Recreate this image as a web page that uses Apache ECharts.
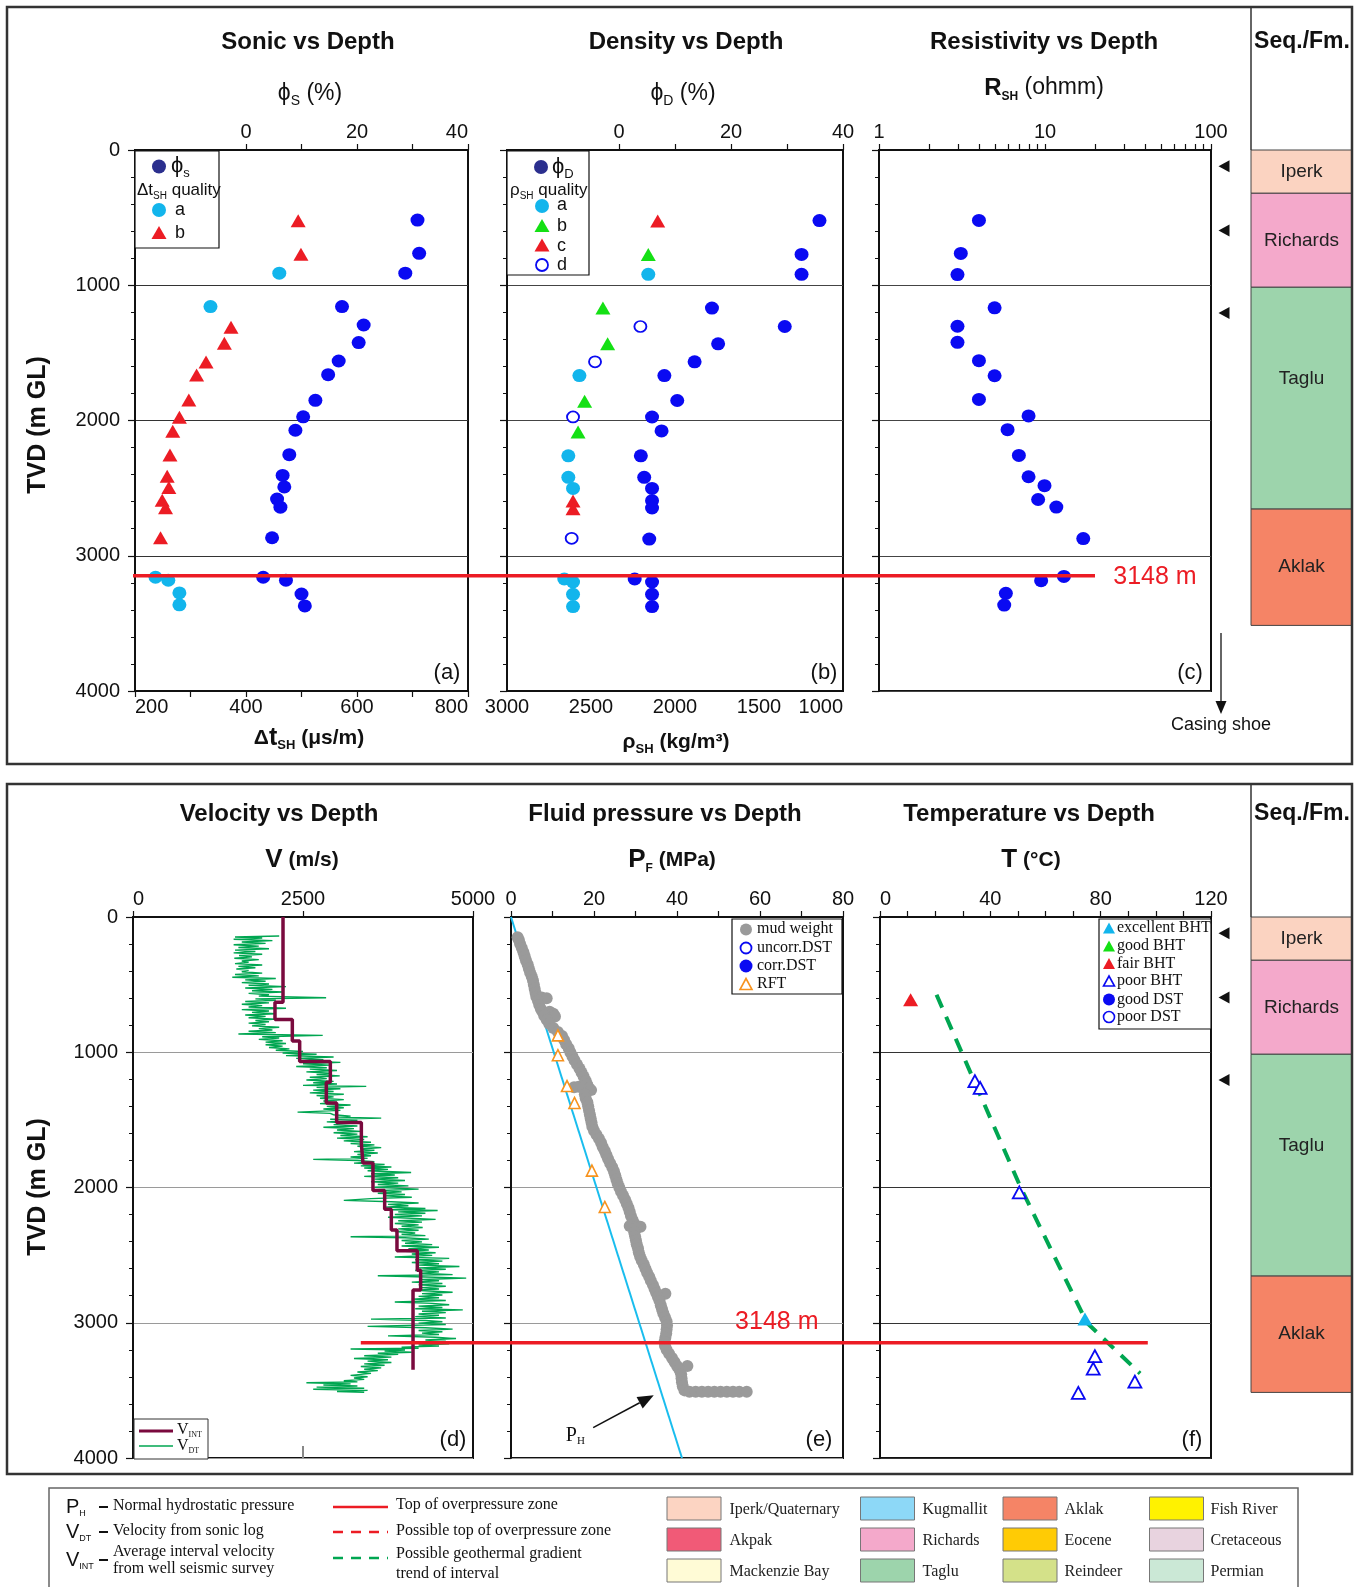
<!DOCTYPE html>
<html><head><meta charset="utf-8">
<script src="https://cdn.jsdelivr.net/npm/echarts@6/dist/echarts.min.js"></script>
<style>html,body{margin:0;padding:0;background:#fff}#c{width:1363px;height:1587px}</style>
</head><body><div id="c"></div>
<script>
// ---------------- DATA ----------------
const depthLabels = [0, 1000, 2000, 3000, 4000];
// (a) Sonic vs depth
const phiS = [[30.9,518],[31.2,764],[28.7,911],[17.3,1158],[21.2,1294],[20.3,1424],[16.7,1560],[14.8,1661],[12.5,1851],[10.3,1973],[8.9,2072],[7.8,2253],[6.6,2406],[6.9,2491],[5.6,2581],[6.2,2641],[4.7,2867],[3.1,3159],[7.2,3181],[10.0,3283],[10.6,3371]];
const dtQualityA = [[460,911],[336,1158],[237,3159],[260,3181],[280,3275],[280,3363]];
const dtQualityB = [[494,524],[499,770],[373,1310],[361,1429],[328,1568],[311,1664],[297,1848],[280,1976],[268,2080],[263,2256],[258,2412],[261,2496],[249,2590],[255,2646],[246,2867]];
// (b) Density vs depth
const phiD = [[35.8,522],[32.6,772],[32.6,919],[16.6,1169],[29.6,1305],[17.7,1433],[13.5,1566],[8.1,1668],[10.4,1852],[5.9,1974],[7.6,2077],[3.9,2261],[4.5,2420],[5.9,2502],[5.9,2593],[5.9,2647],[5.4,2877],[2.8,3172],[5.9,3194],[5.9,3285],[5.9,3376]];
const rhoQualityA = [[2159,919],[2569,1668],[2635,2261],[2635,2420],[2607,2502],[2659,3172],[2607,3194],[2607,3285],[2607,3376]];
const rhoQualityB = [[2159,772],[2429,1169],[2401,1433],[2538,1858],[2577,2085]];
const rhoQualityC = [[2103,525],[2607,2596],[2607,2652]];
const rhoQualityD = [[2206,1305],[2476,1566],[2607,1974],[2615,2871]];
// (c) Resistivity vs depth
const rSH = [[4.0,521],[3.11,765],[2.97,921],[4.97,1167],[2.97,1303],[2.97,1422],[4.0,1558],[4.97,1669],[4.0,1844],[7.96,1966],[5.95,2068],[6.96,2258],[7.96,2416],[9.93,2482],[9.09,2584],[11.7,2640],[17.0,2873],[9.48,3184],[13.0,3153],[5.81,3278],[5.68,3365]];
const casingShoeDepths = [120, 595, 1205];
// (d) Velocity vs depth
const vIntTop = [0,631,758,917,1069,1222,1375,1519,1675,1819,2022,2161,2314,2467,2611,2758];
const vIntBase = 3347;
const vInt = [2206,2088,2343,2451,2902,2843,2995,3358,3382,3529,3701,3799,3882,4181,4230,4118];
const vDT = [[2150,140],[1500,148],[1900,155],[1480,165],[2050,175],[1600,185],[1950,195],[1480,205],[1850,215],[1550,225],[2000,235],[1500,245],[1800,255],[1480,265],[1900,275],[1560,285],[1750,295],[1490,305],[1850,315],[1600,325],[1700,335],[1500,345],[1900,355],[1550,365],[1800,375],[1520,385],[1700,395],[1600,405],[1900,415],[1500,425],[1850,435],[1460,445],[2100,455],[1650,465],[1950,475],[1600,485],[2000,495],[1700,505],[2250,515],[1650,525],[2050,535],[1750,545],[2200,555],[1700,565],[2000,575],[1850,585],[2840,597],[1800,605],[2100,615],[1650,625],[2000,635],[1600,645],[1900,655],[1700,665],[2250,675],[1600,685],[2000,695],[1750,705],[2100,715],[1650,725],[1950,735],[1700,745],[2100,755],[1800,765],[2000,775],[1700,785],[1950,795],[1750,805],[2150,815],[1850,825],[2050,835],[1700,845],[2100,855],[1550,865],[2790,875],[1900,885],[2150,895],[1850,905],[2200,915],[1950,925],[2250,935],[1950,945],[2200,955],[2000,965],[2300,975],[2100,985],[2500,995],[2200,1005],[2700,1015],[2250,1025],[2950,1035],[2400,1045],[2800,1055],[2450,1065],[3050,1075],[2500,1085],[2900,1095],[2400,1105],[2850,1115],[2600,1125],[3000,1135],[2550,1145],[2900,1155],[2700,1165],[3040,1175],[2600,1185],[2850,1195],[2550,1205],[2950,1215],[2650,1225],[3000,1235],[2500,1245],[3430,1252],[2700,1260],[3050,1270],[2650,1280],[2950,1290],[2600,1300],[3100,1310],[2700,1320],[2950,1330],[2750,1340],[3100,1350],[2800,1360],[3000,1370],[2750,1380],[3200,1390],[2850,1400],[3100,1410],[2800,1420],[3050,1430],[2420,1443],[2900,1452],[2950,1462],[3200,1472],[3000,1480],[3650,1487],[2900,1495],[3300,1505],[2850,1515],[3200,1525],[2950,1535],[3300,1545],[2800,1555],[3250,1565],[3000,1575],[3350,1585],[2950,1595],[3300,1605],[3050,1615],[3450,1625],[3000,1635],[3400,1645],[3100,1655],[3500,1665],[3200,1675],[3550,1685],[3300,1695],[3650,1705],[3350,1715],[3550,1725],[3250,1735],[3600,1745],[3300,1755],[3500,1765],[3200,1775],[3450,1785],[2650,1792],[3300,1800],[3550,1810],[3250,1820],[3700,1830],[3350,1840],[3800,1848],[3400,1856],[3750,1866],[3450,1876],[4090,1889],[3500,1898],[3850,1908],[3400,1918],[3900,1928],[3550,1938],[4000,1948],[3500,1958],[3900,1968],[3600,1978],[4050,1988],[3550,1998],[4200,2012],[3650,2022],[3950,2032],[3600,2042],[4000,2052],[3700,2062],[4100,2072],[3500,2082],[3100,2095],[3800,2105],[4200,2115],[3750,2125],[4050,2135],[3700,2145],[4300,2155],[3800,2165],[4480,2170],[3900,2180],[4300,2190],[3850,2200],[4250,2210],[3750,2220],[4450,2236],[3900,2246],[4250,2256],[3850,2266],[4200,2276],[3950,2286],[4260,2296],[3900,2306],[4200,2316],[3850,2326],[4150,2336],[3950,2346],[4300,2356],[3200,2364],[4000,2372],[4350,2382],[3950,2392],[4250,2402],[4000,2412],[4400,2422],[3950,2432],[4500,2442],[4050,2452],[4350,2462],[4000,2472],[4450,2482],[4100,2492],[4400,2502],[3850,2514],[4650,2524],[4150,2534],[4550,2544],[4100,2554],[4500,2564],[4200,2574],[4800,2584],[4200,2594],[4600,2604],[4150,2614],[4500,2624],[4250,2634],[4700,2644],[3600,2653],[4300,2662],[4900,2670],[4250,2680],[4500,2690],[4100,2700],[4550,2710],[4200,2720],[4600,2730],[4250,2740],[4500,2750],[4150,2760],[4700,2775],[4250,2785],[4550,2795],[4200,2805],[4500,2815],[4100,2825],[4600,2835],[3850,2847],[4400,2857],[4650,2867],[4200,2877],[4550,2887],[4150,2897],[4850,2905],[4250,2915],[4600,2925],[4200,2935],[4500,2945],[4150,2955],[4600,2965],[3500,2973],[4300,2983],[4550,2993],[4200,3003],[4600,3013],[3450,3027],[4300,3037],[4700,3047],[4200,3057],[4550,3067],[4250,3077],[4500,3087],[3750,3097],[4450,3107],[4750,3117],[4300,3127],[4600,3137],[4000,3147],[4650,3155],[4200,3165],[4500,3172],[3950,3180],[4200,3188],[3200,3194],[4000,3202],[3700,3210],[4100,3218],[3600,3226],[3900,3234],[3400,3244],[3800,3254],[3250,3264],[3750,3274],[3450,3284],[3800,3294],[3400,3304],[3700,3314],[3350,3324],[3650,3334],[3400,3344],[3600,3354],[3300,3364],[3500,3374],[3200,3389],[3450,3399],[3250,3409],[3400,3419],[3100,3429],[3300,3437],[2550,3444],[3200,3452],[2800,3460],[3300,3468],[2700,3476],[3400,3484],[2650,3492],[3450,3500],[3000,3508],[3400,3514]];
// (e) Fluid pressure vs depth
const hydrostatic = [[0,0],[41.2,4000]];
const rft = [[11.3,875],[11.3,1022],[13.5,1250],[15.3,1375],[19.5,1875],[22.6,2144]];
const mudWeight = [[1.6,150],[1.9,170],[2.2,200],[2.6,230],[3.0,260],[3.3,290],[3.6,320],[4.0,350],[4.3,380],[4.6,410],[5.0,440],[5.3,470],[5.5,500],[5.7,530],[5.9,560],[6.1,590],[7.4,595],[8.6,600],[6.5,620],[6.8,650],[7.2,680],[7.6,700],[9.3,700],[10.2,715],[10.6,735],[8.0,730],[8.6,760],[9.2,790],[10.2,820],[11.3,850],[12.3,880],[12.8,910],[13.3,940],[13.9,970],[14.3,1000],[14.8,1030],[15.3,1060],[15.9,1090],[16.5,1120],[17.0,1150],[17.5,1180],[18.0,1210],[18.4,1240],[15.2,1258],[16.3,1255],[17.4,1262],[18.8,1268],[19.3,1280],[17.8,1310],[18.0,1340],[18.4,1370],[18.6,1400],[18.8,1430],[19.0,1460],[19.2,1490],[19.4,1520],[19.6,1550],[20.0,1580],[20.6,1610],[21.2,1640],[21.7,1670],[22.1,1700],[22.6,1730],[23.0,1760],[23.4,1790],[23.9,1820],[24.4,1850],[24.8,1880],[25.1,1910],[25.4,1940],[25.7,1970],[26.1,2000],[26.5,2030],[27.0,2060],[27.5,2090],[27.9,2120],[28.3,2150],[28.6,2180],[28.9,2210],[29.3,2240],[29.8,2270],[28.6,2285],[31.2,2290],[30.2,2300],[29.7,2330],[29.9,2360],[30.1,2390],[30.3,2420],[30.6,2450],[30.8,2480],[31.1,2510],[31.5,2540],[32.0,2570],[32.4,2600],[32.8,2630],[33.3,2660],[33.7,2690],[34.2,2720],[34.6,2750],[35.0,2780],[37.2,2786],[35.4,2810],[35.8,2840],[36.1,2870],[36.4,2900],[36.7,2930],[37.1,2960],[37.5,2990],[37.6,3020],[37.5,3050],[37.4,3080],[37.2,3110],[37.0,3140],[37.1,3170],[37.5,3200],[38.1,3230],[38.8,3260],[39.4,3290],[40.0,3320],[42.5,3319],[40.6,3350],[41.0,3380],[41.1,3410],[41.2,3440],[41.4,3470],[41.8,3500],[43.0,3510],[44.5,3510],[46.0,3510],[47.5,3510],[49.0,3510],[50.5,3510],[52.0,3510],[53.5,3510],[55.0,3510],[56.8,3510]];
const phArrow = [[19.8,3775,34.4,3536,15.5,3835]];
// (f) Temperature vs depth
const bhtFair = [[11.1,611]];
const bhtExcellent = [[74.3,2972]];
const bhtPoor = [[34.4,1214],[36.3,1264],[50.5,2036],[77.9,3247],[77.3,3339],[92.4,3436],[71.9,3519]];
const geoTrend = [[20.5,575],[51.0,2000],[75.0,3000],[94.3,3375]];
// overpressure top
const overpressureTop = 3148;
// sequences
const seqNames = ['Iperk','Richards','Taglu','Aklak'];
const seqTop = [0,320,1015,2655];
const seqBase = [320,1015,2655,3515];
// bottom legend
const formationNames = ['Iperk/Quaternary','Akpak','Mackenzie Bay','Kugmallit','Richards','Taglu','Aklak','Eocene','Reindeer','Fish River','Cretaceous','Permian'];

// ---------------- STYLE ----------------
const SANS = '"Liberation Sans", Arial, Helvetica, sans-serif';
const SERIF = '"Liberation Serif", "Times New Roman", serif';
const BLUE = '#0a0af2', NAVY = '#2b2f8e', CYAN = '#12b5ec', RED = '#ec1c24', GREEN = '#14e014';
const MAROON = '#7a0a3e', VGREEN = '#00a651', GREY = '#9a9a9a', ORANGE = '#f7931e', PHCOL = '#19bdee';
const seqColors = ['#fbd3c1','#f4a9cb','#9dd4ac','#f58466'];
const seqLabelShift = [0,0,-19,0];
const formationColors = ['#fcd4c2','#f15a77','#fffbd6','#8dd8f7','#f4a9cb','#9dd4ac','#f58466','#ffcb05','#d4e189','#fff200','#e8d3df','#cbe8d6'];
const plain = (v)=>String(v);

const layout = [
  {left:135, top:150, width:333, height:541},
  {left:507, top:150, width:336, height:541},
  {left:879, top:150, width:332, height:541},
  {left:1251, top:150, width:101, height:541},
  {left:133, top:917, width:340, height:541},
  {left:511, top:917, width:332, height:541},
  {left:880, top:917, width:331, height:541},
  {left:1251, top:917, width:101, height:541}
];
const grid = layout.map((g,i)=>Object.assign({show: i!==3 && i!==7, borderColor:'#111', borderWidth:2, backgroundColor:'transparent', containLabel:false, outerBoundsMode:'none'}, g));

function yAx(gi, labels, gridColor, hidden){
  if (hidden) return {type:'value', gridIndex:gi, inverse:true, min:0, max:4000, show:false};
  return {type:'value', gridIndex:gi, inverse:true, min:0, max:4000, interval:1000,
    axisLine:{show:true, onZero:false, lineStyle:{color:'#111', width:2}},
    axisTick:{show:true, length:7, lineStyle:{color:'#111', width:1.2}},
    minorTick:{show:true, splitNumber:5, length:4, lineStyle:{color:'#111', width:1}},
    axisLabel:{show:labels, fontSize:20, fontFamily:SANS, color:'#111', margin:15, customValues: depthLabels, formatter: plain},
    splitLine:{show:true, lineStyle:{color:gridColor, width:1}},
    minorSplitLine:{show:false}};
}
function xAx(gi, pos, min, max, interval, ticks, labels, extra){
  const ax = {type:'value', gridIndex:gi, position:pos, min, max, interval,
    axisLine:{show:true, onZero:false, lineStyle:{color:'#111', width:2}},
    axisTick:{show: ticks!==null, length:6, lineStyle:{color:'#111', width:1.2}},
    axisLabel:{show: labels!==null, fontSize:20, fontFamily:SANS, color:'#111', margin:8, formatter: plain},
    splitLine:{show:false}};
  if (ticks) ax.axisTick.customValues = ticks;
  if (labels) ax.axisLabel.customValues = labels;
  if (extra) { for (const k in extra) { if (typeof extra[k]==='object' && ax[k]) Object.assign(ax[k], extra[k]); else ax[k]=extra[k]; } }
  return ax;
}
const xAxis = [
  xAx(0,'top',-20,40,10,[0,10,20,30,40],[0,20,40],{axisLabel:{alignMaxLabel:'right'}}),
  xAx(0,'bottom',200,800,100,[200,300,400,500,600,700,800],[200,400,600,800],{axisLabel:{alignMinLabel:'left', alignMaxLabel:'right', margin:6}}),
  xAx(1,'top',-20,40,10,[0,10,20,30,40],[0,20,40]),
  xAx(1,'bottom',1000,3000,500,null,[1000,1500,2000,2500,3000],{inverse:true, axisLabel:{alignMinLabel:'right', alignMaxLabel:'center', margin:6}}),
  xAx(2,'top',1,100,null,[1,2,3,4,5,6,7,8,9,10,20,30,40,50,60,70,80,90,100],[1,10,100],{type:'log', logBase:10}),
  {type:'value', gridIndex:3, min:0, max:1, show:false},
  xAx(4,'top',0,5000,2500,[0,2500,5000],[0,2500,5000],{axisLabel:{alignMinLabel:'left'}}),
  xAx(4,'bottom',0,5000,2500,[2500],null,{axisLine:{show:false}, axisTick:{inside:true, length:12, lineStyle:{color:'#888', width:2}}}),
  xAx(5,'top',0,80,10,[0,10,20,30,40,50,60,70,80],[0,20,40,60,80]),
  xAx(6,'top',0,120,10,[0,10,20,30,40,50,60,70,80,90,100,110,120],[0,40,80,120],{axisLabel:{alignMinLabel:'left'}}),
  {type:'value', gridIndex:7, min:0, max:1, show:false}
];
delete xAxis[4].interval;
const yAxis = [yAx(0,true,'#333'), yAx(1,false,'#444'), yAx(2,false,'#444'), yAx(3,false,'',true),
  yAx(4,true,'#9a9a9a'), yAx(5,false,'#9a9a9a'), yAx(6,false,'#333'), yAx(7,false,'',true)];

function sc(name, xi, yi, data, symbol, size, color, extra){
  return Object.assign({type:'scatter', name, xAxisIndex:xi, yAxisIndex:yi, data, symbol, symbolSize:size,
    itemStyle:{color, opacity:1}, silent:true, z:5}, extra||{});
}
const hollow = (c, w)=>({itemStyle:{color:'#fff', borderColor:c, borderWidth:w, opacity:1}});

// V_INT step polyline built from interval tops/values
const vIntLine = [];
vInt.forEach((v,i)=>{ const base = i < vIntTop.length-1 ? vIntTop[i+1] : vIntBase; vIntLine.push([v, vIntTop[i]], [v, base]); });

const txtStyle = (o)=>Object.assign({fill:'#111', fontFamily:SANS, fontSize:20, textAlign:'left', textVerticalAlign:'middle', align:'left', verticalAlign:'middle'}, o);

const seqData = seqNames.map((n,i)=>[0, seqTop[i], seqBase[i], i]);
function seqRender(p, api){
  const a = api.coord([0, api.value(1)]), b = api.coord([1, api.value(2)]);
  const i = api.value(3);
  return {type:'group', children:[
    {type:'rect', shape:{x:a[0], y:a[1], width:b[0]-a[0], height:b[1]-a[1]}, style:{fill:seqColors[i], stroke:'#444', lineWidth:1}},
    {type:'text', x:(a[0]+b[0])/2, y:(a[1]+b[1])/2 + seqLabelShift[i], style:txtStyle({text:seqNames[i], fontSize:19, fill:'#222', textAlign:'center', align:'center'})}
  ]};
}

const series = [
  // (a)
  sc('phiS',0,0,phiS,'circle',[14,13],BLUE),
  sc('dtA',1,0,dtQualityA,'circle',[14,13],CYAN),
  sc('dtB',1,0,dtQualityB,'triangle',[15,13],RED),
  // (b)
  sc('phiD',2,1,phiD,'circle',[14,13],BLUE),
  sc('rhoA',3,1,rhoQualityA,'circle',[14,13],CYAN),
  sc('rhoB',3,1,rhoQualityB,'triangle',[15,13],GREEN),
  sc('rhoC',3,1,rhoQualityC,'triangle',[15,13],RED),
  sc('rhoD',3,1,rhoQualityD,'circle',[12,11],BLUE,hollow(BLUE,1.8)),
  // (c)
  sc('rSH',4,2,rSH,'circle',[14,13],BLUE),
  sc('casingC',4,2,casingShoeDepths.map(d=>[100,d]),'triangle',[12,11],'#111',{symbolRotate:90, symbolOffset:[13,0], clip:false}),
  // seq
  {type:'custom', xAxisIndex:5, yAxisIndex:3, data:seqData, renderItem:seqRender, silent:true, z:2},
  {type:'custom', xAxisIndex:10, yAxisIndex:7, data:seqData, renderItem:seqRender, silent:true, z:2},
  // top overpressure line
  {type:'custom', xAxisIndex:0, yAxisIndex:0, z:30, silent:true, clip:false, data:[[-20, overpressureTop]],
    renderItem:(p, api)=>{ const pt = api.coord([api.value(0), api.value(1)]);
      return {type:'group', children:[
        {type:'line', shape:{x1:pt[0]-2, y1:pt[1], x2:pt[0]+960, y2:pt[1]}, style:{stroke:RED, lineWidth:3.5}},
        {type:'text', x:pt[0]+1020, y:pt[1]+1, style:txtStyle({text: overpressureTop+' m', fill:RED, fontSize:25, textAlign:'center', align:'center'})}
      ]}; }},
  // (d)
  {type:'line', xAxisIndex:6, yAxisIndex:4, data:vDT, symbol:'none', showSymbol:false, lineStyle:{color:VGREEN, width:1.4}, silent:true, z:4, animation:false},
  {type:'line', xAxisIndex:6, yAxisIndex:4, data:vIntLine, symbol:'none', showSymbol:false, lineStyle:{color:MAROON, width:3.5}, silent:true, z:6, animation:false},
  // (e)
  {type:'line', xAxisIndex:8, yAxisIndex:5, data:hydrostatic, symbol:'none', showSymbol:false, lineStyle:{color:PHCOL, width:2}, silent:true, z:4},
  sc('mud',8,5,mudWeight,'circle',12,GREY,{z:5}),
  sc('rft',8,5,rft,'triangle',[11,11],ORANGE,Object.assign(hollow(ORANGE,1.6),{z:7})),
  {type:'custom', xAxisIndex:8, yAxisIndex:5, z:30, silent:true, clip:false, data:phArrow,
    renderItem:(p, api)=>{ const a = api.coord([api.value(0), api.value(1)]), b = api.coord([api.value(2), api.value(3)]), t = api.coord([api.value(4), api.value(5)]);
      const dx=b[0]-a[0], dy=b[1]-a[1], L=Math.hypot(dx,dy), ux=dx/L, uy=dy/L, hl=16, hw=6.5;
      const bx=b[0]-ux*hl, by=b[1]-uy*hl;
      return {type:'group', children:[
        {type:'line', shape:{x1:a[0], y1:a[1], x2:bx, y2:by}, style:{stroke:'#111', lineWidth:1.5}},
        {type:'polygon', shape:{points:[[b[0],b[1]],[bx-uy*hw, by+ux*hw],[bx+uy*hw, by-ux*hw]]}, style:{fill:'#111'}},
        {type:'text', x:t[0], y:t[1], style:txtStyle({text:'{m|P}{s|H}', fontFamily:SERIF, textAlign:'center', align:'center', rich:{m:{fontSize:20, fontFamily:SERIF, lineHeight:22}, s:{fontSize:11, fontFamily:SERIF, lineHeight:10, verticalAlign:'bottom'}}})}
      ]}; }},
  // (f)
  {type:'line', xAxisIndex:9, yAxisIndex:6, data:geoTrend, symbol:'none', showSymbol:false, lineStyle:{color:VGREEN, width:4, type:[14,10]}, silent:true, z:4},
  sc('fair',9,6,bhtFair,'triangle',[15,13],RED),
  sc('excellent',9,6,bhtExcellent,'triangle',[15,13],CYAN),
  sc('poor',9,6,bhtPoor,'triangle',[13,12],BLUE,hollow(BLUE,1.8)),
  sc('casingF',9,6,casingShoeDepths.map(d=>[120,d]),'triangle',[12,11],'#111',{symbolRotate:90, symbolOffset:[13,0], clip:false}),
  // bottom overpressure line
  {type:'custom', xAxisIndex:6, yAxisIndex:4, z:30, silent:true, clip:false, data:[[3350, overpressureTop]],
    renderItem:(p, api)=>{ const pt = api.coord([api.value(0), api.value(1)]);
      return {type:'group', children:[
        {type:'line', shape:{x1:pt[0], y1:pt[1], x2:pt[0]+787, y2:pt[1]}, style:{stroke:RED, lineWidth:3.5}},
        {type:'text', x:pt[0]+416, y:pt[1]-21, style:txtStyle({text: overpressureTop+' m', fill:RED, fontSize:25, textAlign:'center', align:'center'})}
      ]}; }}
];

// ---------------- GRAPHICS (frames, titles, legends) ----------------
const G = [];
const T = (x,y,text,o)=>G.push({type:'text', x, y, silent:true, z:100, style:txtStyle(Object.assign({text}, o||{}))});
const TR = (x,y,text,o)=>G.push({type:'text', x, y, silent:true, z:100, rotation:Math.PI/2, style:txtStyle(Object.assign({text}, o||{}))});
const L = (x1,y1,x2,y2,stroke,w,dash)=>G.push({type:'line', silent:true, z:100, shape:{x1,y1,x2,y2}, style:{stroke, lineWidth:w, lineDash:dash||null}});
const R = (x,y,w,h,fill,stroke,lw)=>G.push({type:'rect', silent:true, z:100, shape:{x,y,width:w,height:h}, style:{fill, stroke, lineWidth:lw}});
const C = (cx,cy,r,fill,stroke,lw)=>G.push({type:'circle', silent:true, z:100, shape:{cx,cy,r}, style:{fill, stroke, lineWidth:lw||0}});
const TRI = (cx,cy,w,h,fill,stroke,lw)=>G.push({type:'polygon', silent:true, z:100, shape:{points:[[cx,cy-h/2],[cx+w/2,cy+h/2],[cx-w/2,cy+h/2]]}, style:{fill, stroke, lineWidth:lw||0}});
const C_ = 'center';
const cen = {textAlign:C_, align:C_};
const sub = (big, small, extra)=>Object.assign({m:{fontSize:big, lineHeight:big+5}, s:{fontSize:small, lineHeight:small, verticalAlign:'bottom'}}, extra||{});

// frames
R(7,7,1345,757,'none','#333',2.5);
R(7,784,1345,690,'none','#333',2.5);
L(1251,7,1251,150,'#333',1.5);
L(1251,784,1251,917,'#333',1.5);
// titles (top)
const titleStyle = Object.assign({fontSize:24, fontWeight:'bold'}, cen);
T(308,42,'Sonic vs Depth',titleStyle);
T(686,42,'Density vs Depth',titleStyle);
T(1044,42,'Resistivity vs Depth',titleStyle);
T(1302,42,'Seq./Fm.',Object.assign({},titleStyle,{fontSize:23}));
T(310,94,'{m|ϕ}{s|S}{m| (%)}',Object.assign({rich:sub(23,14)},cen));
T(683,94,'{m|ϕ}{s|D}{m| (%)}',Object.assign({rich:sub(23,14)},cen));
T(1044,88,'{b|R}{s|SH}{m| (ohmm)}',Object.assign({rich:sub(23,12,{b:{fontSize:24, fontWeight:'bold', lineHeight:29}, s:{fontSize:12, fontWeight:'bold', lineHeight:12, verticalAlign:'bottom'}})},cen));
T(309,738,'{m|Δ}{b|t}{s|SH}{m| (μs/m)}',Object.assign({rich:{m:{fontSize:21, fontWeight:'bold', lineHeight:27}, b:{fontSize:25, fontWeight:'bold', lineHeight:27}, s:{fontSize:13, fontWeight:'bold', lineHeight:13, verticalAlign:'bottom'}}},cen));
T(676,742,'{m|ρ}{s|SH}{m| (kg/m³)}',Object.assign({rich:{m:{fontSize:21, fontWeight:'bold', lineHeight:27}, s:{fontSize:13, fontWeight:'bold', lineHeight:13, verticalAlign:'bottom'}}},cen));
// titles (bottom)
T(279,814,'Velocity vs Depth',titleStyle);
T(665,814,'Fluid pressure vs Depth',titleStyle);
T(1029,814,'Temperature vs Depth',titleStyle);
T(1302,814,'Seq./Fm.',Object.assign({},titleStyle,{fontSize:23}));
T(302,860,'{b|V}{m| (m/s)}',Object.assign({rich:{b:{fontSize:26, fontWeight:'bold', lineHeight:30}, m:{fontSize:21, fontWeight:'bold', lineHeight:30}}},cen));
T(672,860,'{b|P}{s|F}{m| (MPa)}',Object.assign({rich:{b:{fontSize:26, fontWeight:'bold', lineHeight:30}, s:{fontSize:12, fontWeight:'bold', lineHeight:14, verticalAlign:'bottom'}, m:{fontSize:21, fontWeight:'bold', lineHeight:30}}},cen));
T(1031,860,'{b|T}{m| (°C)}',Object.assign({rich:{b:{fontSize:26, fontWeight:'bold', lineHeight:30}, m:{fontSize:21, fontWeight:'bold', lineHeight:30}}},cen));
// y titles
TR(38,425,'TVD (m GL)',Object.assign({fontSize:25, fontWeight:'bold'},cen));
TR(38,1187,'TVD (m GL)',Object.assign({fontSize:25, fontWeight:'bold'},cen));
// panel tags
[['(a)',447,673],['(b)',824,673],['(c)',1190,673],['(d)',453,1440],['(e)',819,1440],['(f)',1192,1440]].forEach(a=>T(a[1],a[2],a[0],Object.assign({fontSize:22},cen)));
// casing shoe
L(1221,633,1221,702,'#333',1.5);
G.push({type:'polygon', silent:true, z:100, shape:{points:[[1221,714],[1215.5,701],[1226.5,701]]}, style:{fill:'#111'}});
T(1221,725,'Casing shoe',Object.assign({fontSize:18},cen));
// legend (a)
R(135,151,84,97,'#fff','#111',1.2);
C(159,166.5,7,NAVY);
T(171,166,'{m|ϕ}{s|s}',{rich:sub(22,13)});
T(137,190,'{m|Δt}{s|SH}{m| quality}',{rich:sub(17,10)});
C(159,210,7,CYAN); T(175,210,'a',{fontSize:18});
TRI(159,232.5,15,13,RED); T(175,233.5,'b',{fontSize:18});
// legend (b)
R(507,151,82,124,'#fff','#111',1.2);
C(541,167,7,NAVY);
T(552,167,'{m|ϕ}{s|D}',{rich:sub(22,13)});
T(510,190,'{m|ρ}{s|SH}{m| quality}',{rich:sub(17,10)});
C(542,206,7,CYAN); T(557,205.5,'a',{fontSize:18});
TRI(542,225.5,15,13,GREEN); T(557,226.5,'b',{fontSize:18});
TRI(542,245,15,13,RED); T(557,246,'c',{fontSize:18});
C(542,265,6,'#fff',BLUE,1.8); T(557,265,'d',{fontSize:18});
// legend (d)
R(134,1419,74,40,'#fff','#333',1);
L(139,1431,173,1431,MAROON,3);
L(139,1446,173,1446,VGREEN,1.5);
T(177,1430,'{m|V}{s|INT}',{fontFamily:SERIF, rich:{m:{fontSize:16, fontFamily:SERIF, lineHeight:18}, s:{fontSize:8, fontFamily:SERIF, lineHeight:8, verticalAlign:'bottom'}}});
T(177,1446,'{m|V}{s|DT}',{fontFamily:SERIF, rich:{m:{fontSize:16, fontFamily:SERIF, lineHeight:18}, s:{fontSize:8, fontFamily:SERIF, lineHeight:8, verticalAlign:'bottom'}}});
// legend (e)
R(732,919,110,75,'#fff','#111',1.2);
C(746,929.5,6,GREY); T(757,929,'mud weight',{fontFamily:SERIF, fontSize:16});
C(746,948,5.5,'#fff',BLUE,1.8); T(757,947.5,'uncorr.DST',{fontFamily:SERIF, fontSize:16});
C(746,966,6.5,BLUE); T(757,965.5,'corr.DST',{fontFamily:SERIF, fontSize:16});
TRI(746,984,12,11,'#fff',ORANGE,1.6); T(757,983.5,'RFT',{fontFamily:SERIF, fontSize:16});
// legend (f)
R(1099,919,112,110,'#fff','#111',1.2);
const fl = [['excellent BHT',928],['good BHT',946],['fair BHT',963.5],['poor BHT',981],['good DST',999.5],['poor DST',1017]];
TRI(1109,928,12,11,CYAN); TRI(1109,946,12,11,GREEN); TRI(1109,963.5,12,11,RED); TRI(1109,981,11,10,'#fff',BLUE,1.6);
C(1109,999.5,6,BLUE); C(1109,1017,5.5,'#fff',BLUE,1.6);
fl.forEach(f=>T(1117,f[1],f[0],{fontFamily:SERIF, fontSize:16}));
// bottom legend box
R(49,1488,1249,130,'#fff','#666',1.5);
const lgSub = {m:{fontSize:20, lineHeight:22}, s:{fontSize:9, lineHeight:9, verticalAlign:'bottom'}};
T(66,1507,'{m|P}{s|H}',{rich:lgSub});
T(66,1532,'{m|V}{s|DT}',{rich:lgSub});
T(66,1560,'{m|V}{s|INT}',{rich:lgSub});
[1507,1532,1560].forEach(y=>L(99,y,108,y,'#111',2));
T(113,1506,'Normal hydrostatic pressure',{fontFamily:SERIF, fontSize:16});
T(113,1531,'Velocity from sonic log',{fontFamily:SERIF, fontSize:16});
T(113,1552,'Average interval velocity',{fontFamily:SERIF, fontSize:16});
T(113,1569,'from well seismic survey',{fontFamily:SERIF, fontSize:16});
L(333,1507,388,1507,RED,2.5);
L(333,1532,388,1532,RED,2.5,[10,8]);
L(333,1558,388,1558,VGREEN,2.5,[10,8]);
T(396,1505,'Top of overpressure zone',{fontFamily:SERIF, fontSize:16});
T(396,1531,'Possible top of overpressure zone',{fontFamily:SERIF, fontSize:16});
T(396,1554,'Possible geothermal gradient',{fontFamily:SERIF, fontSize:16});
T(396,1574,'trend of interval',{fontFamily:SERIF, fontSize:16});
const swX = [667, 860.5, 1003, 1149.5], txX = [729.5, 922.5, 1064.5, 1210.5], rowY = [1508.5, 1539.5, 1570.5];
formationNames.forEach((n,i)=>{ const c = Math.floor(i/3), r = i%3;
  R(swX[c], rowY[r]-11.5, 54, 23, formationColors[i], '#777', 1);
  T(txX[c], rowY[r]+1, n, {fontFamily:SERIF, fontSize:16, fill:'#222'});
});

const option = {
  animation:false,
  backgroundColor:'#fff',
  grid, xAxis, yAxis, series,
  graphic:{elements:G}
};
const chart = echarts.init(document.getElementById('c'), null, {renderer:'canvas', width:1363, height:1587});
chart.setOption(option);
</script></body></html>
